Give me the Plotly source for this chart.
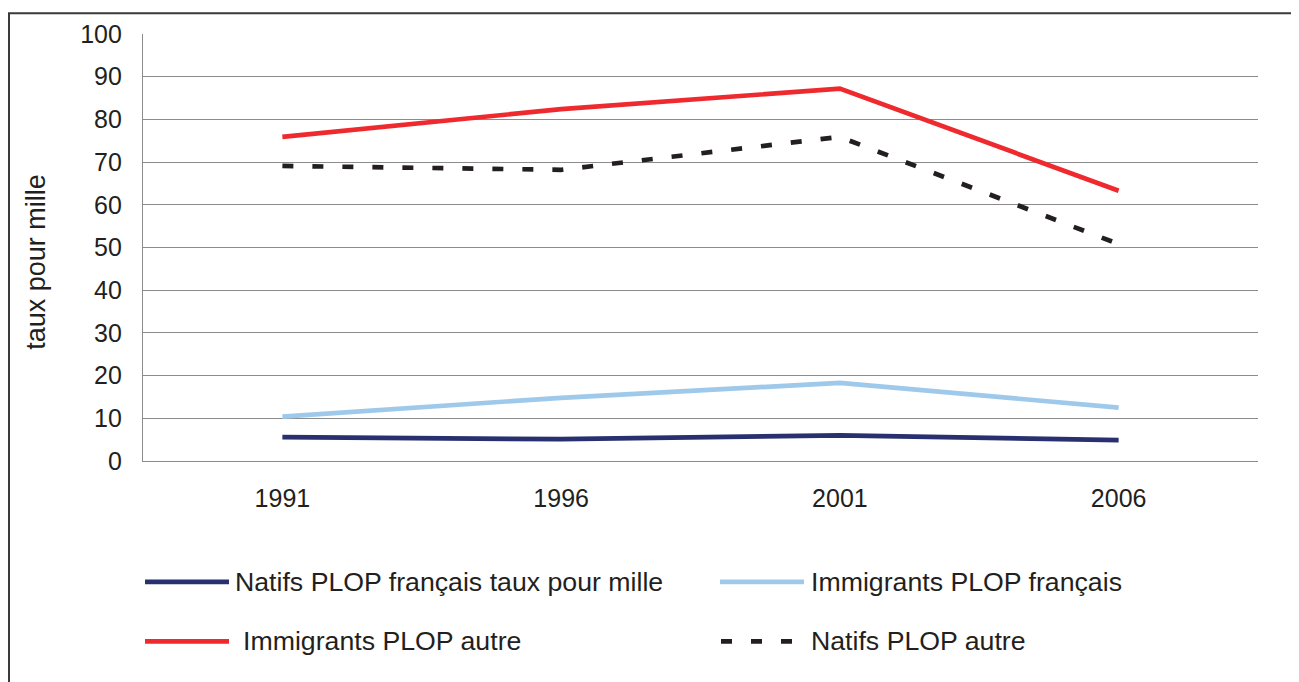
import plotly.graph_objects as go

years = ["1991", "1996", "2001", "2006"]
natifs_fr = [5.6, 5.1, 6.0, 4.9]
immig_fr = [10.4, 14.8, 18.3, 12.5]
immig_autre = [75.9, 82.4, 87.2, 63.3]
natifs_autre = [69.1, 68.2, 75.9, 50.8]

names = ["Natifs PLOP français taux pour mille", "Immigrants PLOP français",
         "Immigrants PLOP autre", "Natifs PLOP autre"]
colors = ["#28306f", "#9fc9ea", "#ee2a2f", "#231f20"]
dashes = ["solid", "solid", "solid", "11px,19px"]
series = [natifs_fr, immig_fr, immig_autre, natifs_autre]

FONT = "Liberation Sans, Arial, sans-serif"
W, H = 1299, 682
OFF = 8  # page body margin
# plot area in page coordinates
PL, PR, PT, PB = 143, 1258, 30, 461
L, R, T, B = PL - OFF, W - (PR - OFF), PT - OFF, H - (PB - OFF)

fig = go.Figure()
for n, c, d, s in zip(names, colors, dashes, series):
    fig.add_trace(go.Scatter(x=years, y=s, mode="lines", name=n,
                             line=dict(color=c, width=4.7, dash=d),
                             showlegend=False))

fig.update_layout(
    width=W, height=H,
    margin=dict(l=L, r=R, t=T, b=B, pad=0),
    paper_bgcolor="white", plot_bgcolor="white",
    font=dict(family=FONT, color="#231f20"),
    xaxis=dict(type="category", range=[-0.5, 3.5], showgrid=False,
               showline=True, linecolor="#8c8c8c", linewidth=1.3,
               ticks="", tickfont=dict(size=25), ticklabelstandoff=15,
               zeroline=False),
    yaxis=dict(range=[0, 100], dtick=10, showgrid=True, gridcolor="#8c8c8c",
               gridwidth=1.3, showline=True, linecolor="#8c8c8c", linewidth=1.3,
               ticks="", tickfont=dict(size=25), ticklabelstandoff=15,
               zeroline=False),
)


def px_x(x):
    return (x - PL) / (PR - PL)


def px_y(y):
    return (PB - y) / (PB - PT)


# y-axis title
fig.add_annotation(text="taux pour mille", xref="paper", yref="paper",
                   x=px_x(36), y=px_y(260),
                   textangle=-90, showarrow=False,
                   font=dict(size=27, family=FONT, color="#231f20"),
                   xanchor="center", yanchor="middle")

# outer frame (left and top edges visible)
fig.add_shape(type="rect", xref="paper", yref="paper",
              x0=px_x(OFF + 1), x1=px_x(W + 40),
              y0=px_y(H + 40), y1=px_y(OFF + 1),
              line=dict(color="#3a3a3a", width=2), layer="below")

# custom legend
legend_items = [
    (145, 229, 583, 233, names[0]),
    (720, 804, 583, 809, names[1]),
    (145, 229, 643, 241, names[2]),
    (721, 796, 643, 809, names[3]),
]
for (x0, x1, y, tx, label), c, d in zip(legend_items, colors, dashes):
    fig.add_shape(type="line", xref="paper", yref="paper",
                  x0=px_x(x0), x1=px_x(x1), y0=px_y(y), y1=px_y(y),
                  line=dict(color=c, width=4.7, dash=d))
    fig.add_annotation(text=label, xref="paper", yref="paper",
                       x=px_x(tx), y=px_y(y), showarrow=False,
                       xanchor="left", yanchor="middle",
                       font=dict(size=26.7, family=FONT, color="#231f20"))

fig.write_html("out.html")
